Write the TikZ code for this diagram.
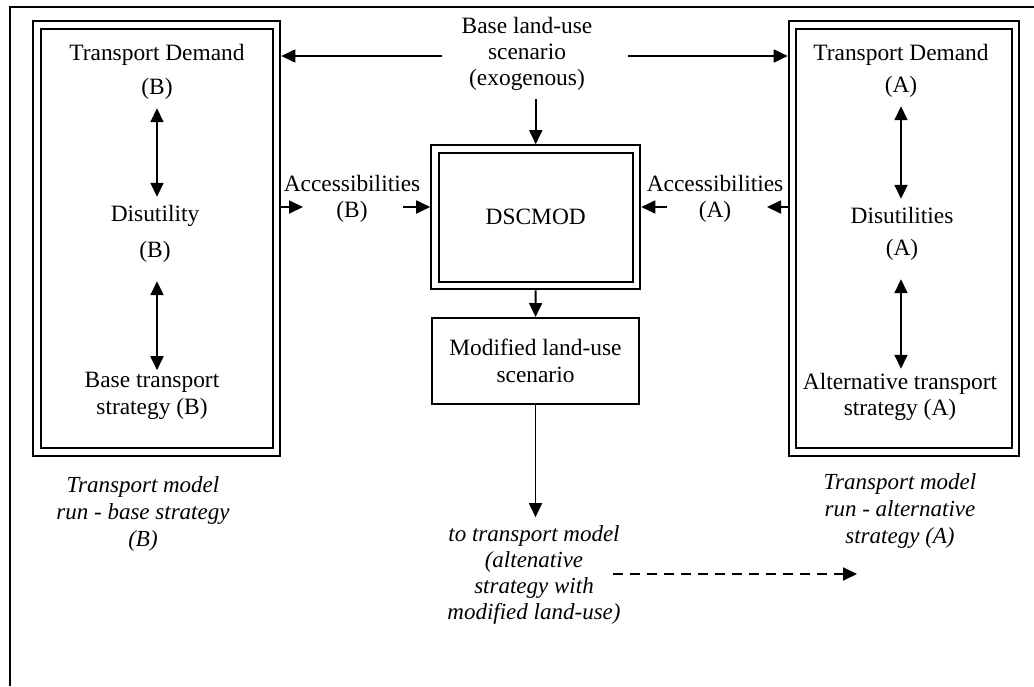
\documentclass[tikz,border=0pt]{standalone}
\usepackage{fontspec}
\setmainfont{Liberation Serif}
\usetikzlibrary{arrows.meta,positioning}
\tikzset{
  dblbox/.style={draw, line width=1pt, double, double distance=2.8pt, outer sep=2.4pt, inner sep=0pt},
  box/.style={draw, line width=1pt, inner sep=0pt},
  txt/.style={align=center, inner sep=4pt, font=\fontsize{11.7}{13.2}\selectfont},
  captxt/.style={align=center, inner sep=4pt, font=\fontsize{11.5}{13.6}\selectfont\itshape},
  arr/.style={-{Triangle[length=7pt,width=6.5pt]}, line width=0.9pt},
  darr/.style={{Triangle[length=7pt,width=6.5pt]}-{Triangle[length=7pt,width=6.5pt]}, line width=0.9pt},
  dasharr/.style={arr, dash pattern=on 5pt off 3.5pt}
}
\begin{document}
\begin{tikzpicture}[x=0.5pt,y=-0.5pt]
\useasboundingbox (0,0) rectangle (1034,686);
\draw[line width=1pt] (1034,7) -- (10,7) -- (10,686);
% the three main boxes
\node[dblbox,minimum width=119.75pt,minimum height=213.5pt] (leftbox) at (156.75,238.5) {};
\node[dblbox,minimum width=111.5pt,minimum height=213.5pt] (rightbox) at (904,238.5) {};
\node[dblbox,minimum width=100.75pt,minimum height=68.25pt,txt,inner sep=0pt] (dscmod) at (535.75,217.25) {DSCMOD};
\node[box,minimum width=103.5pt,minimum height=43pt,txt,inner sep=0pt] (modbox) at (535.5,361) {Modified land-use\\scenario};
\node[txt] (base) at (527,54) {Base land-use\\scenario\\(exogenous)};
% inside the base strategy run
\node[txt] (tdB) at (157,72) {Transport Demand\\[4pt](B)};
\node[txt] (disB) at (155,234) {Disutility\\[5pt](B)};
\node[txt] (strB) at (152,396) {Base transport\\strategy (B)};
% inside the alternative strategy run
\node[txt] (tdA) at (901,71) {Transport Demand\\[3pt](A)};
\node[txt] (disA) at (902,234) {Disutilities\\[3pt](A)};
\node[txt] (strA) at (900,397) {Alternative transport\\strategy (A)};
\node[txt] (accB) at (352,199) {Accessibilities\\(B)};
\node[txt] (accA) at (715,199) {Accessibilities\\(A)};
\node[captxt] (capB) at (143,514) {Transport model\\run - base strategy\\(B)};
\node[captxt] (capA) at (900,511) {Transport model\\run - alternative\\strategy (A)};
\node[captxt,font=\fontsize{11.5}{13}\selectfont\itshape] (tomodel) at (534,575) {to transport model\\(altenative\\strategy with\\modified land-use)};
\coordinate (bL) at (442,56);
\coordinate (bR) at (628,56);
\coordinate (aBl) at (303,207);
\coordinate (aBr) at (403,207);
\coordinate (aAl) at (667,207);
\coordinate (aAr) at (767,207);
\coordinate (dS) at (613,574);
\coordinate (dE) at (857,574);
\draw[arr] (bL) -- (bL -| leftbox.east);
\draw[arr] (bR) -- (bR -| rightbox.west);
\draw[arr] (dscmod.north |- base.south) -- (dscmod.north);
\draw[arr] (aBl -| leftbox.east) -- (aBl);
\draw[arr] (aBr) -- (aBr -| dscmod.west);
\draw[arr] (aAl) -- (aAl -| dscmod.east);
\draw[arr] (aAr -| rightbox.west) -- (aAr);
\draw[arr] (dscmod) -- (modbox);
\draw[arr] (modbox.south) -- (modbox.south |- tomodel.north);
\draw[dasharr] (dS) -- (dE);
\draw[darr] (tdB.south) -- (tdB.south |- disB.north);
\draw[darr,shorten <=5pt,shorten >=-3pt] (tdB.south |- disB.south) -- (tdB.south |- strB.north);
\draw[darr] (tdA.south) -- (tdA.south |- disA.north);
\draw[darr,shorten <=5pt,shorten >=-2pt] (tdA.south |- disA.south) -- (tdA.south |- strA.north);
\end{tikzpicture}
\end{document}
